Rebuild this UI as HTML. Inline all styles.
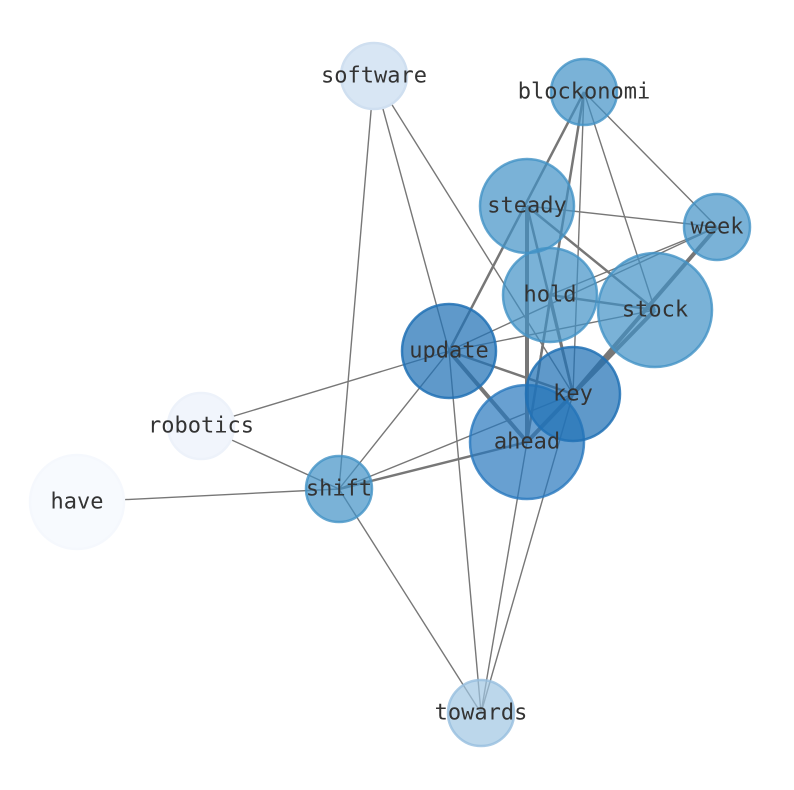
<!DOCTYPE html>
<html><head><meta charset="utf-8"><style>body{margin:0;background:#fff}svg{display:block}text{font-family:"DejaVu Sans Mono","Liberation Mono",monospace;font-size:22px;fill:#333;text-anchor:middle;dominant-baseline:central}</style></head><body>
<svg width="794" height="790" viewBox="0 0 794 790">
<g stroke="#777" fill="none">
<g stroke-width="1.4">
<line x1="374" y1="76" x2="339" y2="489"/>
<line x1="374" y1="76" x2="449" y2="351"/>
<line x1="374" y1="76" x2="573" y2="394"/>
<line x1="584" y1="92" x2="573" y2="394"/>
<line x1="584" y1="92" x2="655" y2="310"/>
<line x1="584" y1="92" x2="717" y2="227"/>
<line x1="527" y1="206" x2="717" y2="227"/>
<line x1="717" y1="227" x2="449" y2="351"/>
<line x1="717" y1="227" x2="550" y2="295"/>
<line x1="655" y1="310" x2="449" y2="351"/>
<line x1="449" y1="351" x2="201" y2="426"/>
<line x1="449" y1="351" x2="339" y2="489"/>
<line x1="449" y1="351" x2="481" y2="713"/>
<line x1="573" y1="394" x2="339" y2="489"/>
<line x1="527" y1="442" x2="481" y2="713"/>
<line x1="573" y1="394" x2="481" y2="713"/>
<line x1="339" y1="489" x2="201" y2="426"/>
<line x1="339" y1="489" x2="77" y2="502"/>
<line x1="339" y1="489" x2="481" y2="713"/>
<line x1="550" y1="295" x2="527" y2="442"/>
</g>
<g stroke-width="2.5">
<line x1="584" y1="92" x2="449" y2="351"/>
<line x1="584" y1="92" x2="527" y2="442"/>
<line x1="527" y1="206" x2="573" y2="394"/>
<line x1="527" y1="206" x2="655" y2="310"/>
<line x1="550" y1="295" x2="655" y2="310"/>
<line x1="550" y1="295" x2="573" y2="394"/>
<line x1="449" y1="351" x2="573" y2="394"/>
<line x1="339" y1="489" x2="527" y2="442"/>
</g>
<g stroke-width="4">
<line x1="527" y1="206" x2="527" y2="442"/>
<line x1="449" y1="351" x2="527" y2="442"/>
<line x1="717" y1="227" x2="573" y2="394"/>
<line x1="655" y1="310" x2="573" y2="394"/>
<line x1="573" y1="394" x2="527" y2="442"/>
</g>
</g>
<g stroke-width="2.5">
<circle cx="374" cy="76" r="33" fill="#d8e6f4" stroke="#cfdff0"/>
<circle cx="201" cy="426" r="33" fill="#f1f5fc" stroke="#edf2fa"/>
<circle cx="77" cy="502" r="47" fill="#f7fafe" stroke="#f5f8fd"/>
<circle cx="481" cy="713" r="33" fill="rgba(160,198,226,0.7)" stroke="rgba(150,190,222,0.8)"/>
<circle cx="584" cy="92" r="33" fill="rgba(66,146,198,0.7)" stroke="rgba(66,146,198,0.8)"/>
<circle cx="717" cy="227" r="33" fill="rgba(66,146,198,0.7)" stroke="rgba(66,146,198,0.8)"/>
<circle cx="527" cy="206" r="47" fill="rgba(66,146,198,0.7)" stroke="rgba(66,146,198,0.8)"/>
<circle cx="655" cy="310" r="57" fill="rgba(66,146,198,0.7)" stroke="rgba(66,146,198,0.8)"/>
<circle cx="550" cy="295" r="47" fill="rgba(66,146,198,0.7)" stroke="rgba(66,146,198,0.8)"/>
<circle cx="339" cy="489" r="33" fill="rgba(66,146,198,0.7)" stroke="rgba(66,146,198,0.8)"/>
<circle cx="449" cy="351" r="47" fill="rgba(33,113,181,0.72)" stroke="rgba(33,113,181,0.85)"/>
<circle cx="527" cy="442" r="57" fill="rgba(40,120,190,0.7)" stroke="rgba(40,120,190,0.8)"/>
<circle cx="573" cy="394" r="47" fill="rgba(33,113,181,0.72)" stroke="rgba(33,113,181,0.85)"/>
</g>
<text x="374" y="76">software</text>
<text x="584" y="92">blockonomi</text>
<text x="527" y="206">steady</text>
<text x="717" y="227">week</text>
<text x="550" y="295">hold</text>
<text x="655" y="310">stock</text>
<text x="449" y="351">update</text>
<text x="573" y="394">key</text>
<text x="201" y="426">robotics</text>
<text x="527" y="442">ahead</text>
<text x="339" y="489">shift</text>
<text x="77" y="502">have</text>
<text x="481" y="713">towards</text>
</svg>
</body></html>
